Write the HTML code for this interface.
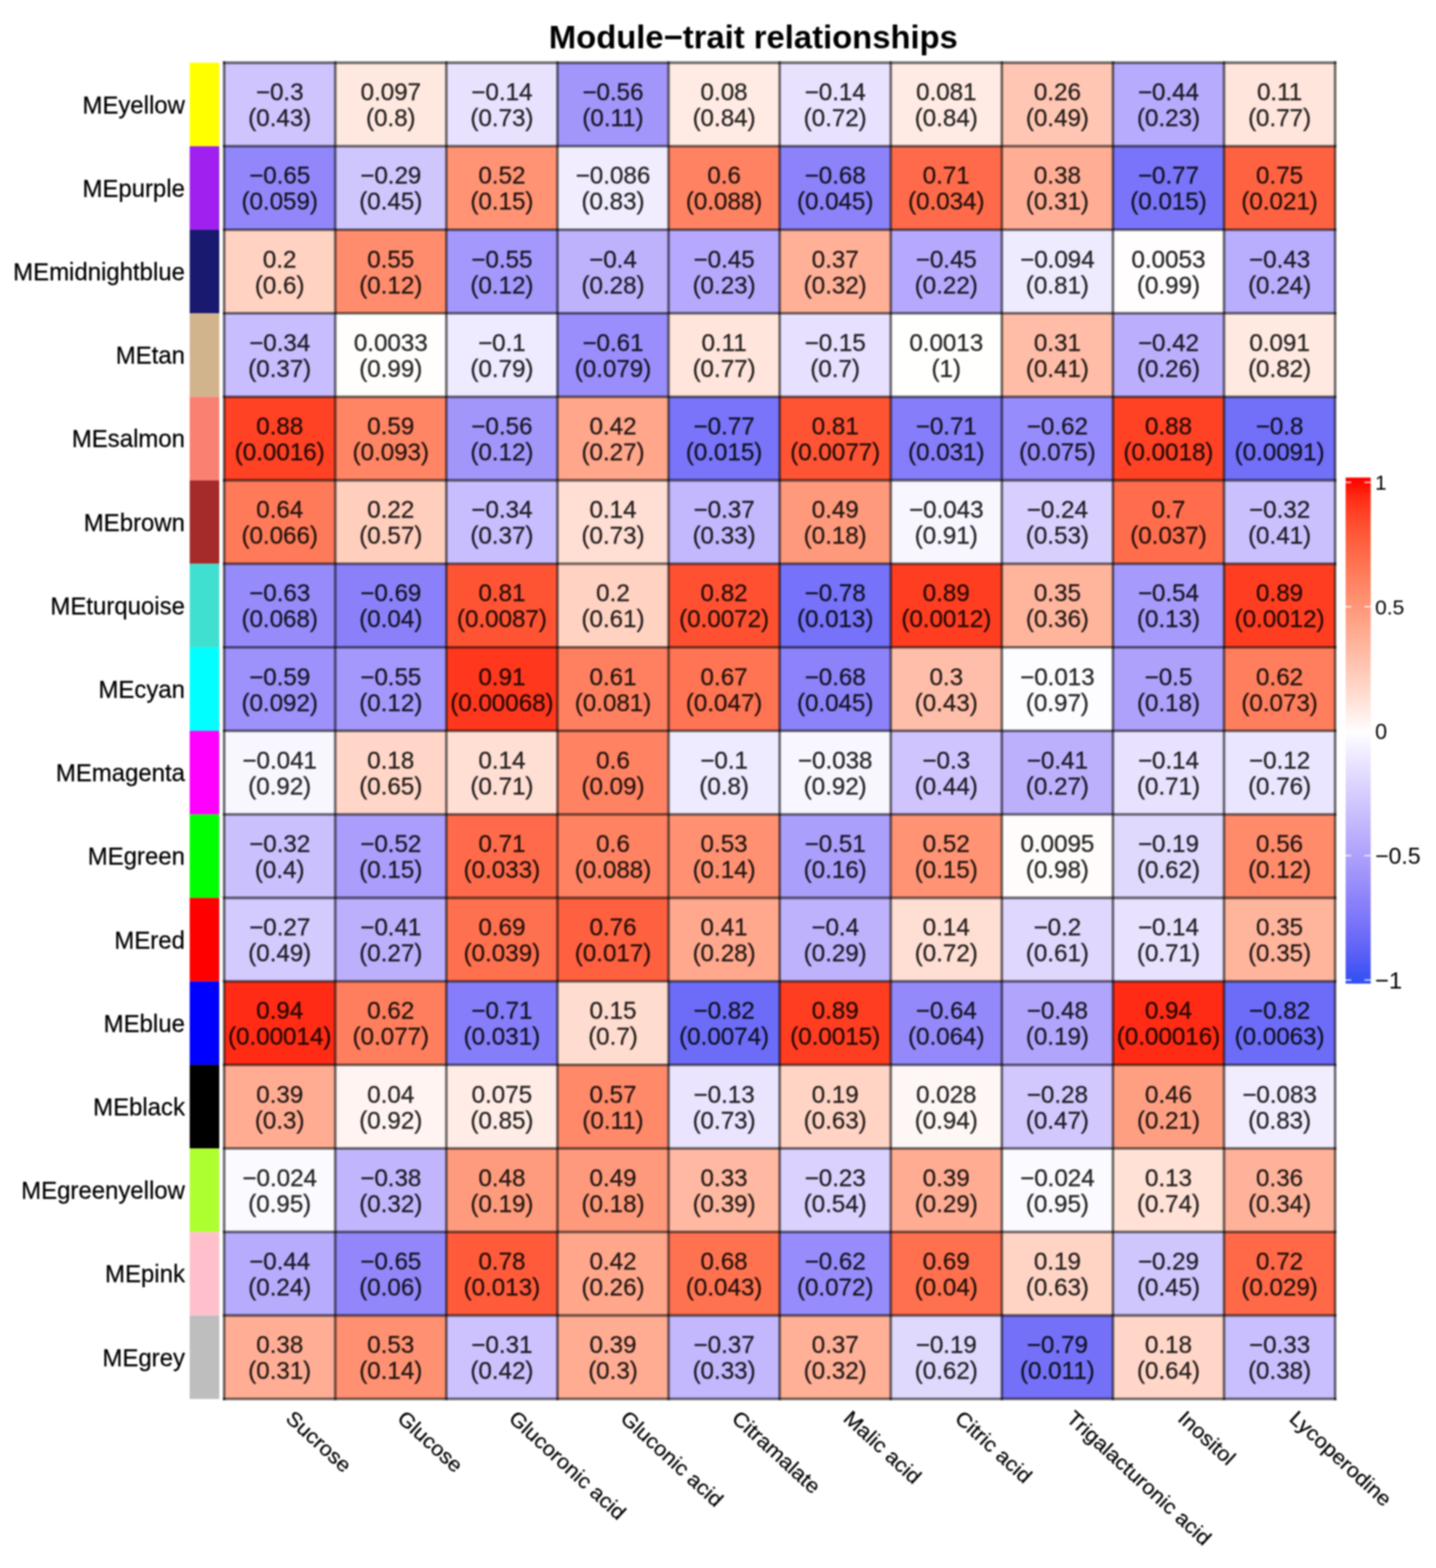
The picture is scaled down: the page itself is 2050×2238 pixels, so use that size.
<!DOCTYPE html><html><head><meta charset="utf-8"><title>Module-trait relationships</title><style>html,body{margin:0;padding:0;background:#fff}svg{display:block;filter:blur(0.9px)}</style></head><body>
<svg width="2050" height="2238" viewBox="0 0 2050 2238" font-family="Liberation Sans, Arial, Helvetica, sans-serif">
<rect width="2050" height="2238" fill="#fff"/>
<text x="1075.5" y="69.2" text-anchor="middle" font-weight="bold" font-size="46.8" fill="#000">Module−trait relationships</text>
<g><rect x="320.00" y="89.50" width="158.60" height="119.20" fill="#cfc4fe"/><rect x="478.60" y="89.50" width="158.60" height="119.20" fill="#ffe8df"/><rect x="637.20" y="89.50" width="158.60" height="119.20" fill="#e8e2ff"/><rect x="795.80" y="89.50" width="158.60" height="119.20" fill="#a296fb"/><rect x="954.40" y="89.50" width="158.60" height="119.20" fill="#ffebe4"/><rect x="1113.00" y="89.50" width="158.60" height="119.20" fill="#e8e2ff"/><rect x="1271.60" y="89.50" width="158.60" height="119.20" fill="#ffebe4"/><rect x="1430.20" y="89.50" width="158.60" height="119.20" fill="#ffc6b3"/><rect x="1588.80" y="89.50" width="158.60" height="119.20" fill="#b7abfd"/><rect x="1747.40" y="89.50" width="158.60" height="119.20" fill="#ffe5db"/><rect x="320.00" y="208.70" width="158.60" height="119.20" fill="#9287fa"/><rect x="478.60" y="208.70" width="158.60" height="119.20" fill="#d0c6fe"/><rect x="637.20" y="208.70" width="158.60" height="119.20" fill="#ff9374"/><rect x="795.80" y="208.70" width="158.60" height="119.20" fill="#f1edff"/><rect x="954.40" y="208.70" width="158.60" height="119.20" fill="#ff8262"/><rect x="1113.00" y="208.70" width="158.60" height="119.20" fill="#8c82fa"/><rect x="1271.60" y="208.70" width="158.60" height="119.20" fill="#ff6b4a"/><rect x="1430.20" y="208.70" width="158.60" height="119.20" fill="#ffae95"/><rect x="1588.80" y="208.70" width="158.60" height="119.20" fill="#7974f9"/><rect x="1747.40" y="208.70" width="158.60" height="119.20" fill="#ff6241"/><rect x="320.00" y="327.90" width="158.60" height="119.20" fill="#ffd2c2"/><rect x="478.60" y="327.90" width="158.60" height="119.20" fill="#ff8d6d"/><rect x="637.20" y="327.90" width="158.60" height="119.20" fill="#a498fc"/><rect x="795.80" y="327.90" width="158.60" height="119.20" fill="#beb2fd"/><rect x="954.40" y="327.90" width="158.60" height="119.20" fill="#b6a9fd"/><rect x="1113.00" y="327.90" width="158.60" height="119.20" fill="#ffb097"/><rect x="1271.60" y="327.90" width="158.60" height="119.20" fill="#b6a9fd"/><rect x="1430.20" y="327.90" width="158.60" height="119.20" fill="#efebff"/><rect x="1588.80" y="327.90" width="158.60" height="119.20" fill="#fffdfd"/><rect x="1747.40" y="327.90" width="158.60" height="119.20" fill="#b9adfd"/><rect x="320.00" y="447.10" width="158.60" height="119.20" fill="#c8bdfe"/><rect x="478.60" y="447.10" width="158.60" height="119.20" fill="#fffefd"/><rect x="637.20" y="447.10" width="158.60" height="119.20" fill="#eeeaff"/><rect x="795.80" y="447.10" width="158.60" height="119.20" fill="#998efb"/><rect x="954.40" y="447.10" width="158.60" height="119.20" fill="#ffe5db"/><rect x="1113.00" y="447.10" width="158.60" height="119.20" fill="#e7e0ff"/><rect x="1271.60" y="447.10" width="158.60" height="119.20" fill="#fffffe"/><rect x="1430.20" y="447.10" width="158.60" height="119.20" fill="#ffbca6"/><rect x="1588.80" y="447.10" width="158.60" height="119.20" fill="#bbaffd"/><rect x="1747.40" y="447.10" width="158.60" height="119.20" fill="#ffe9e1"/><rect x="320.00" y="566.30" width="158.60" height="119.20" fill="#ff4124"/><rect x="478.60" y="566.30" width="158.60" height="119.20" fill="#ff8564"/><rect x="637.20" y="566.30" width="158.60" height="119.20" fill="#a296fb"/><rect x="795.80" y="566.30" width="158.60" height="119.20" fill="#ffa68b"/><rect x="954.40" y="566.30" width="158.60" height="119.20" fill="#7974f9"/><rect x="1113.00" y="566.30" width="158.60" height="119.20" fill="#ff5434"/><rect x="1271.60" y="566.30" width="158.60" height="119.20" fill="#857df9"/><rect x="1430.20" y="566.30" width="158.60" height="119.20" fill="#978cfb"/><rect x="1588.80" y="566.30" width="158.60" height="119.20" fill="#ff4124"/><rect x="1747.40" y="566.30" width="158.60" height="119.20" fill="#726ff8"/><rect x="320.00" y="685.50" width="158.60" height="119.20" fill="#ff7a59"/><rect x="478.60" y="685.50" width="158.60" height="119.20" fill="#ffcebd"/><rect x="637.20" y="685.50" width="158.60" height="119.20" fill="#c8bdfe"/><rect x="795.80" y="685.50" width="158.60" height="119.20" fill="#ffded3"/><rect x="954.40" y="685.50" width="158.60" height="119.20" fill="#c3b7fd"/><rect x="1113.00" y="685.50" width="158.60" height="119.20" fill="#ff997b"/><rect x="1271.60" y="685.50" width="158.60" height="119.20" fill="#f8f6ff"/><rect x="1430.20" y="685.50" width="158.60" height="119.20" fill="#d8cffe"/><rect x="1588.80" y="685.50" width="158.60" height="119.20" fill="#ff6d4c"/><rect x="1747.40" y="685.50" width="158.60" height="119.20" fill="#cbc0fe"/><rect x="320.00" y="804.70" width="158.60" height="119.20" fill="#958bfb"/><rect x="478.60" y="804.70" width="158.60" height="119.20" fill="#8a81fa"/><rect x="637.20" y="804.70" width="158.60" height="119.20" fill="#ff5434"/><rect x="795.80" y="804.70" width="158.60" height="119.20" fill="#ffd2c2"/><rect x="954.40" y="804.70" width="158.60" height="119.20" fill="#ff5132"/><rect x="1113.00" y="804.70" width="158.60" height="119.20" fill="#7672f9"/><rect x="1271.60" y="804.70" width="158.60" height="119.20" fill="#ff3d21"/><rect x="1430.20" y="804.70" width="158.60" height="119.20" fill="#ffb49c"/><rect x="1588.80" y="804.70" width="158.60" height="119.20" fill="#a69afc"/><rect x="1747.40" y="804.70" width="158.60" height="119.20" fill="#ff3d21"/><rect x="320.00" y="923.90" width="158.60" height="119.20" fill="#9d91fb"/><rect x="478.60" y="923.90" width="158.60" height="119.20" fill="#a498fc"/><rect x="637.20" y="923.90" width="158.60" height="119.20" fill="#ff371c"/><rect x="795.80" y="923.90" width="158.60" height="119.20" fill="#ff8060"/><rect x="954.40" y="923.90" width="158.60" height="119.20" fill="#ff7452"/><rect x="1113.00" y="923.90" width="158.60" height="119.20" fill="#8c82fa"/><rect x="1271.60" y="923.90" width="158.60" height="119.20" fill="#ffbea9"/><rect x="1430.20" y="923.90" width="158.60" height="119.20" fill="#fdfcff"/><rect x="1588.80" y="923.90" width="158.60" height="119.20" fill="#ada1fc"/><rect x="1747.40" y="923.90" width="158.60" height="119.20" fill="#ff7e5e"/><rect x="320.00" y="1043.10" width="158.60" height="119.20" fill="#f8f6ff"/><rect x="478.60" y="1043.10" width="158.60" height="119.20" fill="#ffd6c8"/><rect x="637.20" y="1043.10" width="158.60" height="119.20" fill="#ffded3"/><rect x="795.80" y="1043.10" width="158.60" height="119.20" fill="#ff8262"/><rect x="954.40" y="1043.10" width="158.60" height="119.20" fill="#eeeaff"/><rect x="1113.00" y="1043.10" width="158.60" height="119.20" fill="#f8f7ff"/><rect x="1271.60" y="1043.10" width="158.60" height="119.20" fill="#cfc4fe"/><rect x="1430.20" y="1043.10" width="158.60" height="119.20" fill="#bcb0fd"/><rect x="1588.80" y="1043.10" width="158.60" height="119.20" fill="#e8e2ff"/><rect x="1747.40" y="1043.10" width="158.60" height="119.20" fill="#ebe6ff"/><rect x="320.00" y="1162.30" width="158.60" height="119.20" fill="#cbc0fe"/><rect x="478.60" y="1162.30" width="158.60" height="119.20" fill="#aa9dfc"/><rect x="637.20" y="1162.30" width="158.60" height="119.20" fill="#ff6b4a"/><rect x="795.80" y="1162.30" width="158.60" height="119.20" fill="#ff8262"/><rect x="954.40" y="1162.30" width="158.60" height="119.20" fill="#ff9172"/><rect x="1113.00" y="1162.30" width="158.60" height="119.20" fill="#ab9ffc"/><rect x="1271.60" y="1162.30" width="158.60" height="119.20" fill="#ff9374"/><rect x="1430.20" y="1162.30" width="158.60" height="119.20" fill="#fffcfb"/><rect x="1588.80" y="1162.30" width="158.60" height="119.20" fill="#e0d9fe"/><rect x="1747.40" y="1162.30" width="158.60" height="119.20" fill="#ff8b6b"/><rect x="320.00" y="1281.50" width="158.60" height="119.20" fill="#d3cafe"/><rect x="478.60" y="1281.50" width="158.60" height="119.20" fill="#bcb0fd"/><rect x="637.20" y="1281.50" width="158.60" height="119.20" fill="#ff704e"/><rect x="795.80" y="1281.50" width="158.60" height="119.20" fill="#ff603f"/><rect x="954.40" y="1281.50" width="158.60" height="119.20" fill="#ffa88e"/><rect x="1113.00" y="1281.50" width="158.60" height="119.20" fill="#beb2fd"/><rect x="1271.60" y="1281.50" width="158.60" height="119.20" fill="#ffded3"/><rect x="1430.20" y="1281.50" width="158.60" height="119.20" fill="#dfd7fe"/><rect x="1588.80" y="1281.50" width="158.60" height="119.20" fill="#e8e2ff"/><rect x="1747.40" y="1281.50" width="158.60" height="119.20" fill="#ffb49c"/><rect x="320.00" y="1400.70" width="158.60" height="119.20" fill="#ff2b14"/><rect x="478.60" y="1400.70" width="158.60" height="119.20" fill="#ff7e5e"/><rect x="637.20" y="1400.70" width="158.60" height="119.20" fill="#857df9"/><rect x="795.80" y="1400.70" width="158.60" height="119.20" fill="#ffdcd0"/><rect x="954.40" y="1400.70" width="158.60" height="119.20" fill="#6d6cf8"/><rect x="1113.00" y="1400.70" width="158.60" height="119.20" fill="#ff3d21"/><rect x="1271.60" y="1400.70" width="158.60" height="119.20" fill="#9389fa"/><rect x="1430.20" y="1400.70" width="158.60" height="119.20" fill="#b1a4fc"/><rect x="1588.80" y="1400.70" width="158.60" height="119.20" fill="#ff2b14"/><rect x="1747.40" y="1400.70" width="158.60" height="119.20" fill="#6d6cf8"/><rect x="320.00" y="1519.90" width="158.60" height="119.20" fill="#ffac93"/><rect x="478.60" y="1519.90" width="158.60" height="119.20" fill="#fff4f1"/><rect x="637.20" y="1519.90" width="158.60" height="119.20" fill="#ffece6"/><rect x="795.80" y="1519.90" width="158.60" height="119.20" fill="#ff8969"/><rect x="954.40" y="1519.90" width="158.60" height="119.20" fill="#eae4ff"/><rect x="1113.00" y="1519.90" width="158.60" height="119.20" fill="#ffd4c5"/><rect x="1271.60" y="1519.90" width="158.60" height="119.20" fill="#fff7f5"/><rect x="1430.20" y="1519.90" width="158.60" height="119.20" fill="#d2c8fe"/><rect x="1588.80" y="1519.90" width="158.60" height="119.20" fill="#ff9f82"/><rect x="1747.40" y="1519.90" width="158.60" height="119.20" fill="#f1edff"/><rect x="320.00" y="1639.10" width="158.60" height="119.20" fill="#fbfaff"/><rect x="478.60" y="1639.10" width="158.60" height="119.20" fill="#c1b6fd"/><rect x="637.20" y="1639.10" width="158.60" height="119.20" fill="#ff9b7d"/><rect x="795.80" y="1639.10" width="158.60" height="119.20" fill="#ff997b"/><rect x="954.40" y="1639.10" width="158.60" height="119.20" fill="#ffb8a1"/><rect x="1113.00" y="1639.10" width="158.60" height="119.20" fill="#dad1fe"/><rect x="1271.60" y="1639.10" width="158.60" height="119.20" fill="#ffac93"/><rect x="1430.20" y="1639.10" width="158.60" height="119.20" fill="#fbfaff"/><rect x="1588.80" y="1639.10" width="158.60" height="119.20" fill="#ffe1d6"/><rect x="1747.40" y="1639.10" width="158.60" height="119.20" fill="#ffb29a"/><rect x="320.00" y="1758.30" width="158.60" height="119.20" fill="#b7abfd"/><rect x="478.60" y="1758.30" width="158.60" height="119.20" fill="#9287fa"/><rect x="637.20" y="1758.30" width="158.60" height="119.20" fill="#ff5b3a"/><rect x="795.80" y="1758.30" width="158.60" height="119.20" fill="#ffa68b"/><rect x="954.40" y="1758.30" width="158.60" height="119.20" fill="#ff7250"/><rect x="1113.00" y="1758.30" width="158.60" height="119.20" fill="#978cfb"/><rect x="1271.60" y="1758.30" width="158.60" height="119.20" fill="#ff704e"/><rect x="1430.20" y="1758.30" width="158.60" height="119.20" fill="#ffd4c5"/><rect x="1588.80" y="1758.30" width="158.60" height="119.20" fill="#d0c6fe"/><rect x="1747.40" y="1758.30" width="158.60" height="119.20" fill="#ff6948"/><rect x="320.00" y="1877.50" width="158.60" height="119.20" fill="#ffae95"/><rect x="478.60" y="1877.50" width="158.60" height="119.20" fill="#ff9172"/><rect x="637.20" y="1877.50" width="158.60" height="119.20" fill="#cdc2fe"/><rect x="795.80" y="1877.50" width="158.60" height="119.20" fill="#ffac93"/><rect x="954.40" y="1877.50" width="158.60" height="119.20" fill="#c3b7fd"/><rect x="1113.00" y="1877.50" width="158.60" height="119.20" fill="#ffb097"/><rect x="1271.60" y="1877.50" width="158.60" height="119.20" fill="#e0d9fe"/><rect x="1430.20" y="1877.50" width="158.60" height="119.20" fill="#7471f8"/><rect x="1588.80" y="1877.50" width="158.60" height="119.20" fill="#ffd6c8"/><rect x="1747.40" y="1877.50" width="158.60" height="119.20" fill="#cabffe"/></g>
<g stroke="#000" stroke-opacity="0.55" stroke-width="3.8"><line x1="320.00" y1="87.60" x2="320.00" y2="1998.60"/><line x1="478.60" y1="87.60" x2="478.60" y2="1998.60"/><line x1="637.20" y1="87.60" x2="637.20" y2="1998.60"/><line x1="795.80" y1="87.60" x2="795.80" y2="1998.60"/><line x1="954.40" y1="87.60" x2="954.40" y2="1998.60"/><line x1="1113.00" y1="87.60" x2="1113.00" y2="1998.60"/><line x1="1271.60" y1="87.60" x2="1271.60" y2="1998.60"/><line x1="1430.20" y1="87.60" x2="1430.20" y2="1998.60"/><line x1="1588.80" y1="87.60" x2="1588.80" y2="1998.60"/><line x1="1747.40" y1="87.60" x2="1747.40" y2="1998.60"/><line x1="1906.00" y1="87.60" x2="1906.00" y2="1998.60"/><line x1="318.10" y1="89.50" x2="1907.90" y2="89.50"/><line x1="318.10" y1="208.70" x2="1907.90" y2="208.70"/><line x1="318.10" y1="327.90" x2="1907.90" y2="327.90"/><line x1="318.10" y1="447.10" x2="1907.90" y2="447.10"/><line x1="318.10" y1="566.30" x2="1907.90" y2="566.30"/><line x1="318.10" y1="685.50" x2="1907.90" y2="685.50"/><line x1="318.10" y1="804.70" x2="1907.90" y2="804.70"/><line x1="318.10" y1="923.90" x2="1907.90" y2="923.90"/><line x1="318.10" y1="1043.10" x2="1907.90" y2="1043.10"/><line x1="318.10" y1="1162.30" x2="1907.90" y2="1162.30"/><line x1="318.10" y1="1281.50" x2="1907.90" y2="1281.50"/><line x1="318.10" y1="1400.70" x2="1907.90" y2="1400.70"/><line x1="318.10" y1="1519.90" x2="1907.90" y2="1519.90"/><line x1="318.10" y1="1639.10" x2="1907.90" y2="1639.10"/><line x1="318.10" y1="1758.30" x2="1907.90" y2="1758.30"/><line x1="318.10" y1="1877.50" x2="1907.90" y2="1877.50"/><line x1="318.10" y1="1996.70" x2="1907.90" y2="1996.70"/></g>
<g><rect x="270.8" y="89.50" width="42.2" height="119.20" fill="#ffff00"/><rect x="270.8" y="208.70" width="42.2" height="119.20" fill="#a020f0"/><rect x="270.8" y="327.90" width="42.2" height="119.20" fill="#191970"/><rect x="270.8" y="447.10" width="42.2" height="119.20" fill="#d2b48c"/><rect x="270.8" y="566.30" width="42.2" height="119.20" fill="#fa8072"/><rect x="270.8" y="685.50" width="42.2" height="119.20" fill="#a52a2a"/><rect x="270.8" y="804.70" width="42.2" height="119.20" fill="#40e0d0"/><rect x="270.8" y="923.90" width="42.2" height="119.20" fill="#00ffff"/><rect x="270.8" y="1043.10" width="42.2" height="119.20" fill="#ff00ff"/><rect x="270.8" y="1162.30" width="42.2" height="119.20" fill="#00ff00"/><rect x="270.8" y="1281.50" width="42.2" height="119.20" fill="#ff0000"/><rect x="270.8" y="1400.70" width="42.2" height="119.20" fill="#0000ff"/><rect x="270.8" y="1519.90" width="42.2" height="119.20" fill="#000000"/><rect x="270.8" y="1639.10" width="42.2" height="119.20" fill="#adff2f"/><rect x="270.8" y="1758.30" width="42.2" height="119.20" fill="#ffc0cb"/><rect x="270.8" y="1877.50" width="42.2" height="119.20" fill="#bebebe"/></g>
<g font-size="34.5" text-anchor="middle" fill="#000" stroke="#000" stroke-width="0.4" opacity="0.85"><text x="399.30" y="143.10">−0.3</text><text x="399.30" y="180.10">(0.43)</text><text x="557.90" y="143.10">0.097</text><text x="557.90" y="180.10">(0.8)</text><text x="716.50" y="143.10">−0.14</text><text x="716.50" y="180.10">(0.73)</text><text x="875.10" y="143.10">−0.56</text><text x="875.10" y="180.10">(0.11)</text><text x="1033.70" y="143.10">0.08</text><text x="1033.70" y="180.10">(0.84)</text><text x="1192.30" y="143.10">−0.14</text><text x="1192.30" y="180.10">(0.72)</text><text x="1350.90" y="143.10">0.081</text><text x="1350.90" y="180.10">(0.84)</text><text x="1509.50" y="143.10">0.26</text><text x="1509.50" y="180.10">(0.49)</text><text x="1668.10" y="143.10">−0.44</text><text x="1668.10" y="180.10">(0.23)</text><text x="1826.70" y="143.10">0.11</text><text x="1826.70" y="180.10">(0.77)</text><text x="399.30" y="262.30">−0.65</text><text x="399.30" y="299.30">(0.059)</text><text x="557.90" y="262.30">−0.29</text><text x="557.90" y="299.30">(0.45)</text><text x="716.50" y="262.30">0.52</text><text x="716.50" y="299.30">(0.15)</text><text x="875.10" y="262.30">−0.086</text><text x="875.10" y="299.30">(0.83)</text><text x="1033.70" y="262.30">0.6</text><text x="1033.70" y="299.30">(0.088)</text><text x="1192.30" y="262.30">−0.68</text><text x="1192.30" y="299.30">(0.045)</text><text x="1350.90" y="262.30">0.71</text><text x="1350.90" y="299.30">(0.034)</text><text x="1509.50" y="262.30">0.38</text><text x="1509.50" y="299.30">(0.31)</text><text x="1668.10" y="262.30">−0.77</text><text x="1668.10" y="299.30">(0.015)</text><text x="1826.70" y="262.30">0.75</text><text x="1826.70" y="299.30">(0.021)</text><text x="399.30" y="381.50">0.2</text><text x="399.30" y="418.50">(0.6)</text><text x="557.90" y="381.50">0.55</text><text x="557.90" y="418.50">(0.12)</text><text x="716.50" y="381.50">−0.55</text><text x="716.50" y="418.50">(0.12)</text><text x="875.10" y="381.50">−0.4</text><text x="875.10" y="418.50">(0.28)</text><text x="1033.70" y="381.50">−0.45</text><text x="1033.70" y="418.50">(0.23)</text><text x="1192.30" y="381.50">0.37</text><text x="1192.30" y="418.50">(0.32)</text><text x="1350.90" y="381.50">−0.45</text><text x="1350.90" y="418.50">(0.22)</text><text x="1509.50" y="381.50">−0.094</text><text x="1509.50" y="418.50">(0.81)</text><text x="1668.10" y="381.50">0.0053</text><text x="1668.10" y="418.50">(0.99)</text><text x="1826.70" y="381.50">−0.43</text><text x="1826.70" y="418.50">(0.24)</text><text x="399.30" y="500.70">−0.34</text><text x="399.30" y="537.70">(0.37)</text><text x="557.90" y="500.70">0.0033</text><text x="557.90" y="537.70">(0.99)</text><text x="716.50" y="500.70">−0.1</text><text x="716.50" y="537.70">(0.79)</text><text x="875.10" y="500.70">−0.61</text><text x="875.10" y="537.70">(0.079)</text><text x="1033.70" y="500.70">0.11</text><text x="1033.70" y="537.70">(0.77)</text><text x="1192.30" y="500.70">−0.15</text><text x="1192.30" y="537.70">(0.7)</text><text x="1350.90" y="500.70">0.0013</text><text x="1350.90" y="537.70">(1)</text><text x="1509.50" y="500.70">0.31</text><text x="1509.50" y="537.70">(0.41)</text><text x="1668.10" y="500.70">−0.42</text><text x="1668.10" y="537.70">(0.26)</text><text x="1826.70" y="500.70">0.091</text><text x="1826.70" y="537.70">(0.82)</text><text x="399.30" y="619.90">0.88</text><text x="399.30" y="656.90">(0.0016)</text><text x="557.90" y="619.90">0.59</text><text x="557.90" y="656.90">(0.093)</text><text x="716.50" y="619.90">−0.56</text><text x="716.50" y="656.90">(0.12)</text><text x="875.10" y="619.90">0.42</text><text x="875.10" y="656.90">(0.27)</text><text x="1033.70" y="619.90">−0.77</text><text x="1033.70" y="656.90">(0.015)</text><text x="1192.30" y="619.90">0.81</text><text x="1192.30" y="656.90">(0.0077)</text><text x="1350.90" y="619.90">−0.71</text><text x="1350.90" y="656.90">(0.031)</text><text x="1509.50" y="619.90">−0.62</text><text x="1509.50" y="656.90">(0.075)</text><text x="1668.10" y="619.90">0.88</text><text x="1668.10" y="656.90">(0.0018)</text><text x="1826.70" y="619.90">−0.8</text><text x="1826.70" y="656.90">(0.0091)</text><text x="399.30" y="739.10">0.64</text><text x="399.30" y="776.10">(0.066)</text><text x="557.90" y="739.10">0.22</text><text x="557.90" y="776.10">(0.57)</text><text x="716.50" y="739.10">−0.34</text><text x="716.50" y="776.10">(0.37)</text><text x="875.10" y="739.10">0.14</text><text x="875.10" y="776.10">(0.73)</text><text x="1033.70" y="739.10">−0.37</text><text x="1033.70" y="776.10">(0.33)</text><text x="1192.30" y="739.10">0.49</text><text x="1192.30" y="776.10">(0.18)</text><text x="1350.90" y="739.10">−0.043</text><text x="1350.90" y="776.10">(0.91)</text><text x="1509.50" y="739.10">−0.24</text><text x="1509.50" y="776.10">(0.53)</text><text x="1668.10" y="739.10">0.7</text><text x="1668.10" y="776.10">(0.037)</text><text x="1826.70" y="739.10">−0.32</text><text x="1826.70" y="776.10">(0.41)</text><text x="399.30" y="858.30">−0.63</text><text x="399.30" y="895.30">(0.068)</text><text x="557.90" y="858.30">−0.69</text><text x="557.90" y="895.30">(0.04)</text><text x="716.50" y="858.30">0.81</text><text x="716.50" y="895.30">(0.0087)</text><text x="875.10" y="858.30">0.2</text><text x="875.10" y="895.30">(0.61)</text><text x="1033.70" y="858.30">0.82</text><text x="1033.70" y="895.30">(0.0072)</text><text x="1192.30" y="858.30">−0.78</text><text x="1192.30" y="895.30">(0.013)</text><text x="1350.90" y="858.30">0.89</text><text x="1350.90" y="895.30">(0.0012)</text><text x="1509.50" y="858.30">0.35</text><text x="1509.50" y="895.30">(0.36)</text><text x="1668.10" y="858.30">−0.54</text><text x="1668.10" y="895.30">(0.13)</text><text x="1826.70" y="858.30">0.89</text><text x="1826.70" y="895.30">(0.0012)</text><text x="399.30" y="977.50">−0.59</text><text x="399.30" y="1014.50">(0.092)</text><text x="557.90" y="977.50">−0.55</text><text x="557.90" y="1014.50">(0.12)</text><text x="716.50" y="977.50">0.91</text><text x="716.50" y="1014.50">(0.00068)</text><text x="875.10" y="977.50">0.61</text><text x="875.10" y="1014.50">(0.081)</text><text x="1033.70" y="977.50">0.67</text><text x="1033.70" y="1014.50">(0.047)</text><text x="1192.30" y="977.50">−0.68</text><text x="1192.30" y="1014.50">(0.045)</text><text x="1350.90" y="977.50">0.3</text><text x="1350.90" y="1014.50">(0.43)</text><text x="1509.50" y="977.50">−0.013</text><text x="1509.50" y="1014.50">(0.97)</text><text x="1668.10" y="977.50">−0.5</text><text x="1668.10" y="1014.50">(0.18)</text><text x="1826.70" y="977.50">0.62</text><text x="1826.70" y="1014.50">(0.073)</text><text x="399.30" y="1096.70">−0.041</text><text x="399.30" y="1133.70">(0.92)</text><text x="557.90" y="1096.70">0.18</text><text x="557.90" y="1133.70">(0.65)</text><text x="716.50" y="1096.70">0.14</text><text x="716.50" y="1133.70">(0.71)</text><text x="875.10" y="1096.70">0.6</text><text x="875.10" y="1133.70">(0.09)</text><text x="1033.70" y="1096.70">−0.1</text><text x="1033.70" y="1133.70">(0.8)</text><text x="1192.30" y="1096.70">−0.038</text><text x="1192.30" y="1133.70">(0.92)</text><text x="1350.90" y="1096.70">−0.3</text><text x="1350.90" y="1133.70">(0.44)</text><text x="1509.50" y="1096.70">−0.41</text><text x="1509.50" y="1133.70">(0.27)</text><text x="1668.10" y="1096.70">−0.14</text><text x="1668.10" y="1133.70">(0.71)</text><text x="1826.70" y="1096.70">−0.12</text><text x="1826.70" y="1133.70">(0.76)</text><text x="399.30" y="1215.90">−0.32</text><text x="399.30" y="1252.90">(0.4)</text><text x="557.90" y="1215.90">−0.52</text><text x="557.90" y="1252.90">(0.15)</text><text x="716.50" y="1215.90">0.71</text><text x="716.50" y="1252.90">(0.033)</text><text x="875.10" y="1215.90">0.6</text><text x="875.10" y="1252.90">(0.088)</text><text x="1033.70" y="1215.90">0.53</text><text x="1033.70" y="1252.90">(0.14)</text><text x="1192.30" y="1215.90">−0.51</text><text x="1192.30" y="1252.90">(0.16)</text><text x="1350.90" y="1215.90">0.52</text><text x="1350.90" y="1252.90">(0.15)</text><text x="1509.50" y="1215.90">0.0095</text><text x="1509.50" y="1252.90">(0.98)</text><text x="1668.10" y="1215.90">−0.19</text><text x="1668.10" y="1252.90">(0.62)</text><text x="1826.70" y="1215.90">0.56</text><text x="1826.70" y="1252.90">(0.12)</text><text x="399.30" y="1335.10">−0.27</text><text x="399.30" y="1372.10">(0.49)</text><text x="557.90" y="1335.10">−0.41</text><text x="557.90" y="1372.10">(0.27)</text><text x="716.50" y="1335.10">0.69</text><text x="716.50" y="1372.10">(0.039)</text><text x="875.10" y="1335.10">0.76</text><text x="875.10" y="1372.10">(0.017)</text><text x="1033.70" y="1335.10">0.41</text><text x="1033.70" y="1372.10">(0.28)</text><text x="1192.30" y="1335.10">−0.4</text><text x="1192.30" y="1372.10">(0.29)</text><text x="1350.90" y="1335.10">0.14</text><text x="1350.90" y="1372.10">(0.72)</text><text x="1509.50" y="1335.10">−0.2</text><text x="1509.50" y="1372.10">(0.61)</text><text x="1668.10" y="1335.10">−0.14</text><text x="1668.10" y="1372.10">(0.71)</text><text x="1826.70" y="1335.10">0.35</text><text x="1826.70" y="1372.10">(0.35)</text><text x="399.30" y="1454.30">0.94</text><text x="399.30" y="1491.30">(0.00014)</text><text x="557.90" y="1454.30">0.62</text><text x="557.90" y="1491.30">(0.077)</text><text x="716.50" y="1454.30">−0.71</text><text x="716.50" y="1491.30">(0.031)</text><text x="875.10" y="1454.30">0.15</text><text x="875.10" y="1491.30">(0.7)</text><text x="1033.70" y="1454.30">−0.82</text><text x="1033.70" y="1491.30">(0.0074)</text><text x="1192.30" y="1454.30">0.89</text><text x="1192.30" y="1491.30">(0.0015)</text><text x="1350.90" y="1454.30">−0.64</text><text x="1350.90" y="1491.30">(0.064)</text><text x="1509.50" y="1454.30">−0.48</text><text x="1509.50" y="1491.30">(0.19)</text><text x="1668.10" y="1454.30">0.94</text><text x="1668.10" y="1491.30">(0.00016)</text><text x="1826.70" y="1454.30">−0.82</text><text x="1826.70" y="1491.30">(0.0063)</text><text x="399.30" y="1573.50">0.39</text><text x="399.30" y="1610.50">(0.3)</text><text x="557.90" y="1573.50">0.04</text><text x="557.90" y="1610.50">(0.92)</text><text x="716.50" y="1573.50">0.075</text><text x="716.50" y="1610.50">(0.85)</text><text x="875.10" y="1573.50">0.57</text><text x="875.10" y="1610.50">(0.11)</text><text x="1033.70" y="1573.50">−0.13</text><text x="1033.70" y="1610.50">(0.73)</text><text x="1192.30" y="1573.50">0.19</text><text x="1192.30" y="1610.50">(0.63)</text><text x="1350.90" y="1573.50">0.028</text><text x="1350.90" y="1610.50">(0.94)</text><text x="1509.50" y="1573.50">−0.28</text><text x="1509.50" y="1610.50">(0.47)</text><text x="1668.10" y="1573.50">0.46</text><text x="1668.10" y="1610.50">(0.21)</text><text x="1826.70" y="1573.50">−0.083</text><text x="1826.70" y="1610.50">(0.83)</text><text x="399.30" y="1692.70">−0.024</text><text x="399.30" y="1729.70">(0.95)</text><text x="557.90" y="1692.70">−0.38</text><text x="557.90" y="1729.70">(0.32)</text><text x="716.50" y="1692.70">0.48</text><text x="716.50" y="1729.70">(0.19)</text><text x="875.10" y="1692.70">0.49</text><text x="875.10" y="1729.70">(0.18)</text><text x="1033.70" y="1692.70">0.33</text><text x="1033.70" y="1729.70">(0.39)</text><text x="1192.30" y="1692.70">−0.23</text><text x="1192.30" y="1729.70">(0.54)</text><text x="1350.90" y="1692.70">0.39</text><text x="1350.90" y="1729.70">(0.29)</text><text x="1509.50" y="1692.70">−0.024</text><text x="1509.50" y="1729.70">(0.95)</text><text x="1668.10" y="1692.70">0.13</text><text x="1668.10" y="1729.70">(0.74)</text><text x="1826.70" y="1692.70">0.36</text><text x="1826.70" y="1729.70">(0.34)</text><text x="399.30" y="1811.90">−0.44</text><text x="399.30" y="1848.90">(0.24)</text><text x="557.90" y="1811.90">−0.65</text><text x="557.90" y="1848.90">(0.06)</text><text x="716.50" y="1811.90">0.78</text><text x="716.50" y="1848.90">(0.013)</text><text x="875.10" y="1811.90">0.42</text><text x="875.10" y="1848.90">(0.26)</text><text x="1033.70" y="1811.90">0.68</text><text x="1033.70" y="1848.90">(0.043)</text><text x="1192.30" y="1811.90">−0.62</text><text x="1192.30" y="1848.90">(0.072)</text><text x="1350.90" y="1811.90">0.69</text><text x="1350.90" y="1848.90">(0.04)</text><text x="1509.50" y="1811.90">0.19</text><text x="1509.50" y="1848.90">(0.63)</text><text x="1668.10" y="1811.90">−0.29</text><text x="1668.10" y="1848.90">(0.45)</text><text x="1826.70" y="1811.90">0.72</text><text x="1826.70" y="1848.90">(0.029)</text><text x="399.30" y="1931.10">0.38</text><text x="399.30" y="1968.10">(0.31)</text><text x="557.90" y="1931.10">0.53</text><text x="557.90" y="1968.10">(0.14)</text><text x="716.50" y="1931.10">−0.31</text><text x="716.50" y="1968.10">(0.42)</text><text x="875.10" y="1931.10">0.39</text><text x="875.10" y="1968.10">(0.3)</text><text x="1033.70" y="1931.10">−0.37</text><text x="1033.70" y="1968.10">(0.33)</text><text x="1192.30" y="1931.10">0.37</text><text x="1192.30" y="1968.10">(0.32)</text><text x="1350.90" y="1931.10">−0.19</text><text x="1350.90" y="1968.10">(0.62)</text><text x="1509.50" y="1931.10">−0.79</text><text x="1509.50" y="1968.10">(0.011)</text><text x="1668.10" y="1931.10">0.18</text><text x="1668.10" y="1968.10">(0.64)</text><text x="1826.70" y="1931.10">−0.33</text><text x="1826.70" y="1968.10">(0.38)</text></g>
<g font-size="34.2" text-anchor="end" fill="#000" stroke="#000" stroke-width="0.3"><text x="264" y="161.60">MEyellow</text><text x="264" y="280.80">MEpurple</text><text x="264" y="400.00">MEmidnightblue</text><text x="264" y="519.20">MEtan</text><text x="264" y="638.40">MEsalmon</text><text x="264" y="757.60">MEbrown</text><text x="264" y="876.80">MEturquoise</text><text x="264" y="996.00">MEcyan</text><text x="264" y="1115.20">MEmagenta</text><text x="264" y="1234.40">MEgreen</text><text x="264" y="1353.60">MEred</text><text x="264" y="1472.80">MEblue</text><text x="264" y="1592.00">MEblack</text><text x="264" y="1711.20">MEgreenyellow</text><text x="264" y="1830.40">MEpink</text><text x="264" y="1949.60">MEgrey</text></g>
<g font-size="29.5" fill="#000" stroke="#000" stroke-width="0.3"><text transform="translate(406.35,2026.7) rotate(42.5) scale(1.05,1)">Sucrose</text><text transform="translate(565.54,2026.7) rotate(42.5) scale(1.05,1)">Glucose</text><text transform="translate(724.73,2026.7) rotate(42.5) scale(1.05,1)">Glucoronic acid</text><text transform="translate(883.92,2026.7) rotate(42.5) scale(1.05,1)">Gluconic acid</text><text transform="translate(1043.11,2026.7) rotate(42.5) scale(1.05,1)">Citramalate</text><text transform="translate(1202.30,2026.7) rotate(42.5) scale(1.05,1)">Malic acid</text><text transform="translate(1361.49,2026.7) rotate(42.5) scale(1.05,1)">Citric acid</text><text transform="translate(1520.68,2026.7) rotate(42.5) scale(1.05,1)">Trigalacturonic acid</text><text transform="translate(1679.87,2026.7) rotate(42.5) scale(1.05,1)">Inositol</text><text transform="translate(1839.06,2026.7) rotate(42.5) scale(1.05,1)">Lycoperodine</text></g>
<defs><linearGradient id="lg" x1="0" y1="0" x2="0" y2="1"><stop offset="0.0000" stop-color="#ff0000"/><stop offset="0.0167" stop-color="#ff1105"/><stop offset="0.0333" stop-color="#ff2611"/><stop offset="0.0500" stop-color="#ff341b"/><stop offset="0.0667" stop-color="#ff3f23"/><stop offset="0.0833" stop-color="#ff492b"/><stop offset="0.1000" stop-color="#ff5233"/><stop offset="0.1167" stop-color="#ff5b3a"/><stop offset="0.1333" stop-color="#ff6341"/><stop offset="0.1500" stop-color="#ff6a49"/><stop offset="0.1667" stop-color="#ff7250"/><stop offset="0.1833" stop-color="#ff7958"/><stop offset="0.2000" stop-color="#ff805f"/><stop offset="0.2167" stop-color="#ff8767"/><stop offset="0.2333" stop-color="#ff8e6e"/><stop offset="0.2500" stop-color="#ff9476"/><stop offset="0.2667" stop-color="#ff9b7e"/><stop offset="0.2833" stop-color="#ffa286"/><stop offset="0.3000" stop-color="#ffa98e"/><stop offset="0.3167" stop-color="#ffaf96"/><stop offset="0.3333" stop-color="#ffb69e"/><stop offset="0.3500" stop-color="#ffbda7"/><stop offset="0.3667" stop-color="#ffc3af"/><stop offset="0.3833" stop-color="#ffcab8"/><stop offset="0.4000" stop-color="#ffd1c1"/><stop offset="0.4167" stop-color="#ffd8ca"/><stop offset="0.4333" stop-color="#ffdfd3"/><stop offset="0.4500" stop-color="#ffe6dd"/><stop offset="0.4667" stop-color="#ffeee7"/><stop offset="0.4833" stop-color="#fff5f2"/><stop offset="0.5000" stop-color="#fffefe"/><stop offset="0.5167" stop-color="#faf8ff"/><stop offset="0.5333" stop-color="#f4f1ff"/><stop offset="0.5500" stop-color="#efeaff"/><stop offset="0.5667" stop-color="#e9e3ff"/><stop offset="0.5833" stop-color="#e4ddff"/><stop offset="0.6000" stop-color="#ded6fe"/><stop offset="0.6167" stop-color="#d9d0fe"/><stop offset="0.6333" stop-color="#d4cafe"/><stop offset="0.6500" stop-color="#cec4fe"/><stop offset="0.6667" stop-color="#c9bdfe"/><stop offset="0.6833" stop-color="#c3b7fd"/><stop offset="0.7000" stop-color="#bdb1fd"/><stop offset="0.7167" stop-color="#b8abfd"/><stop offset="0.7333" stop-color="#b2a5fc"/><stop offset="0.7500" stop-color="#aca0fc"/><stop offset="0.7667" stop-color="#a69afc"/><stop offset="0.7833" stop-color="#a094fb"/><stop offset="0.8000" stop-color="#9a8efb"/><stop offset="0.8167" stop-color="#9389fa"/><stop offset="0.8333" stop-color="#8c83fa"/><stop offset="0.8500" stop-color="#867df9"/><stop offset="0.8667" stop-color="#7e78f9"/><stop offset="0.8833" stop-color="#7773f9"/><stop offset="0.9000" stop-color="#6f6df8"/><stop offset="0.9167" stop-color="#6768f8"/><stop offset="0.9333" stop-color="#5e62f7"/><stop offset="0.9500" stop-color="#545df6"/><stop offset="0.9667" stop-color="#4858f6"/><stop offset="0.9833" stop-color="#3b53f5"/><stop offset="1.0000" stop-color="#3250f5"/></linearGradient></defs>
<rect x="1921" y="681.6" width="35.8" height="722.4" fill="url(#lg)"/>
<g stroke="#fff" stroke-width="2" opacity="0.8"><line x1="1921" y1="688.40" x2="1929" y2="688.40"/><line x1="1947.8" y1="688.40" x2="1956.8" y2="688.40"/><line x1="1921" y1="866.00" x2="1929" y2="866.00"/><line x1="1947.8" y1="866.00" x2="1956.8" y2="866.00"/><line x1="1921" y1="1043.60" x2="1929" y2="1043.60"/><line x1="1947.8" y1="1043.60" x2="1956.8" y2="1043.60"/><line x1="1921" y1="1221.20" x2="1929" y2="1221.20"/><line x1="1947.8" y1="1221.20" x2="1956.8" y2="1221.20"/><line x1="1921" y1="1398.80" x2="1929" y2="1398.80"/><line x1="1947.8" y1="1398.80" x2="1956.8" y2="1398.80"/></g>
<g font-size="30" fill="#000"><text x="1963" y="698.96" font-size="29.5">1</text><text x="1963" y="876.74" font-size="30">0.5</text><text x="1963" y="1054.70" font-size="31">0</text><text x="1963" y="1233.01" font-size="33">−0.5</text><text x="1963" y="1410.97" font-size="34">−1</text></g>
</svg></body></html>
